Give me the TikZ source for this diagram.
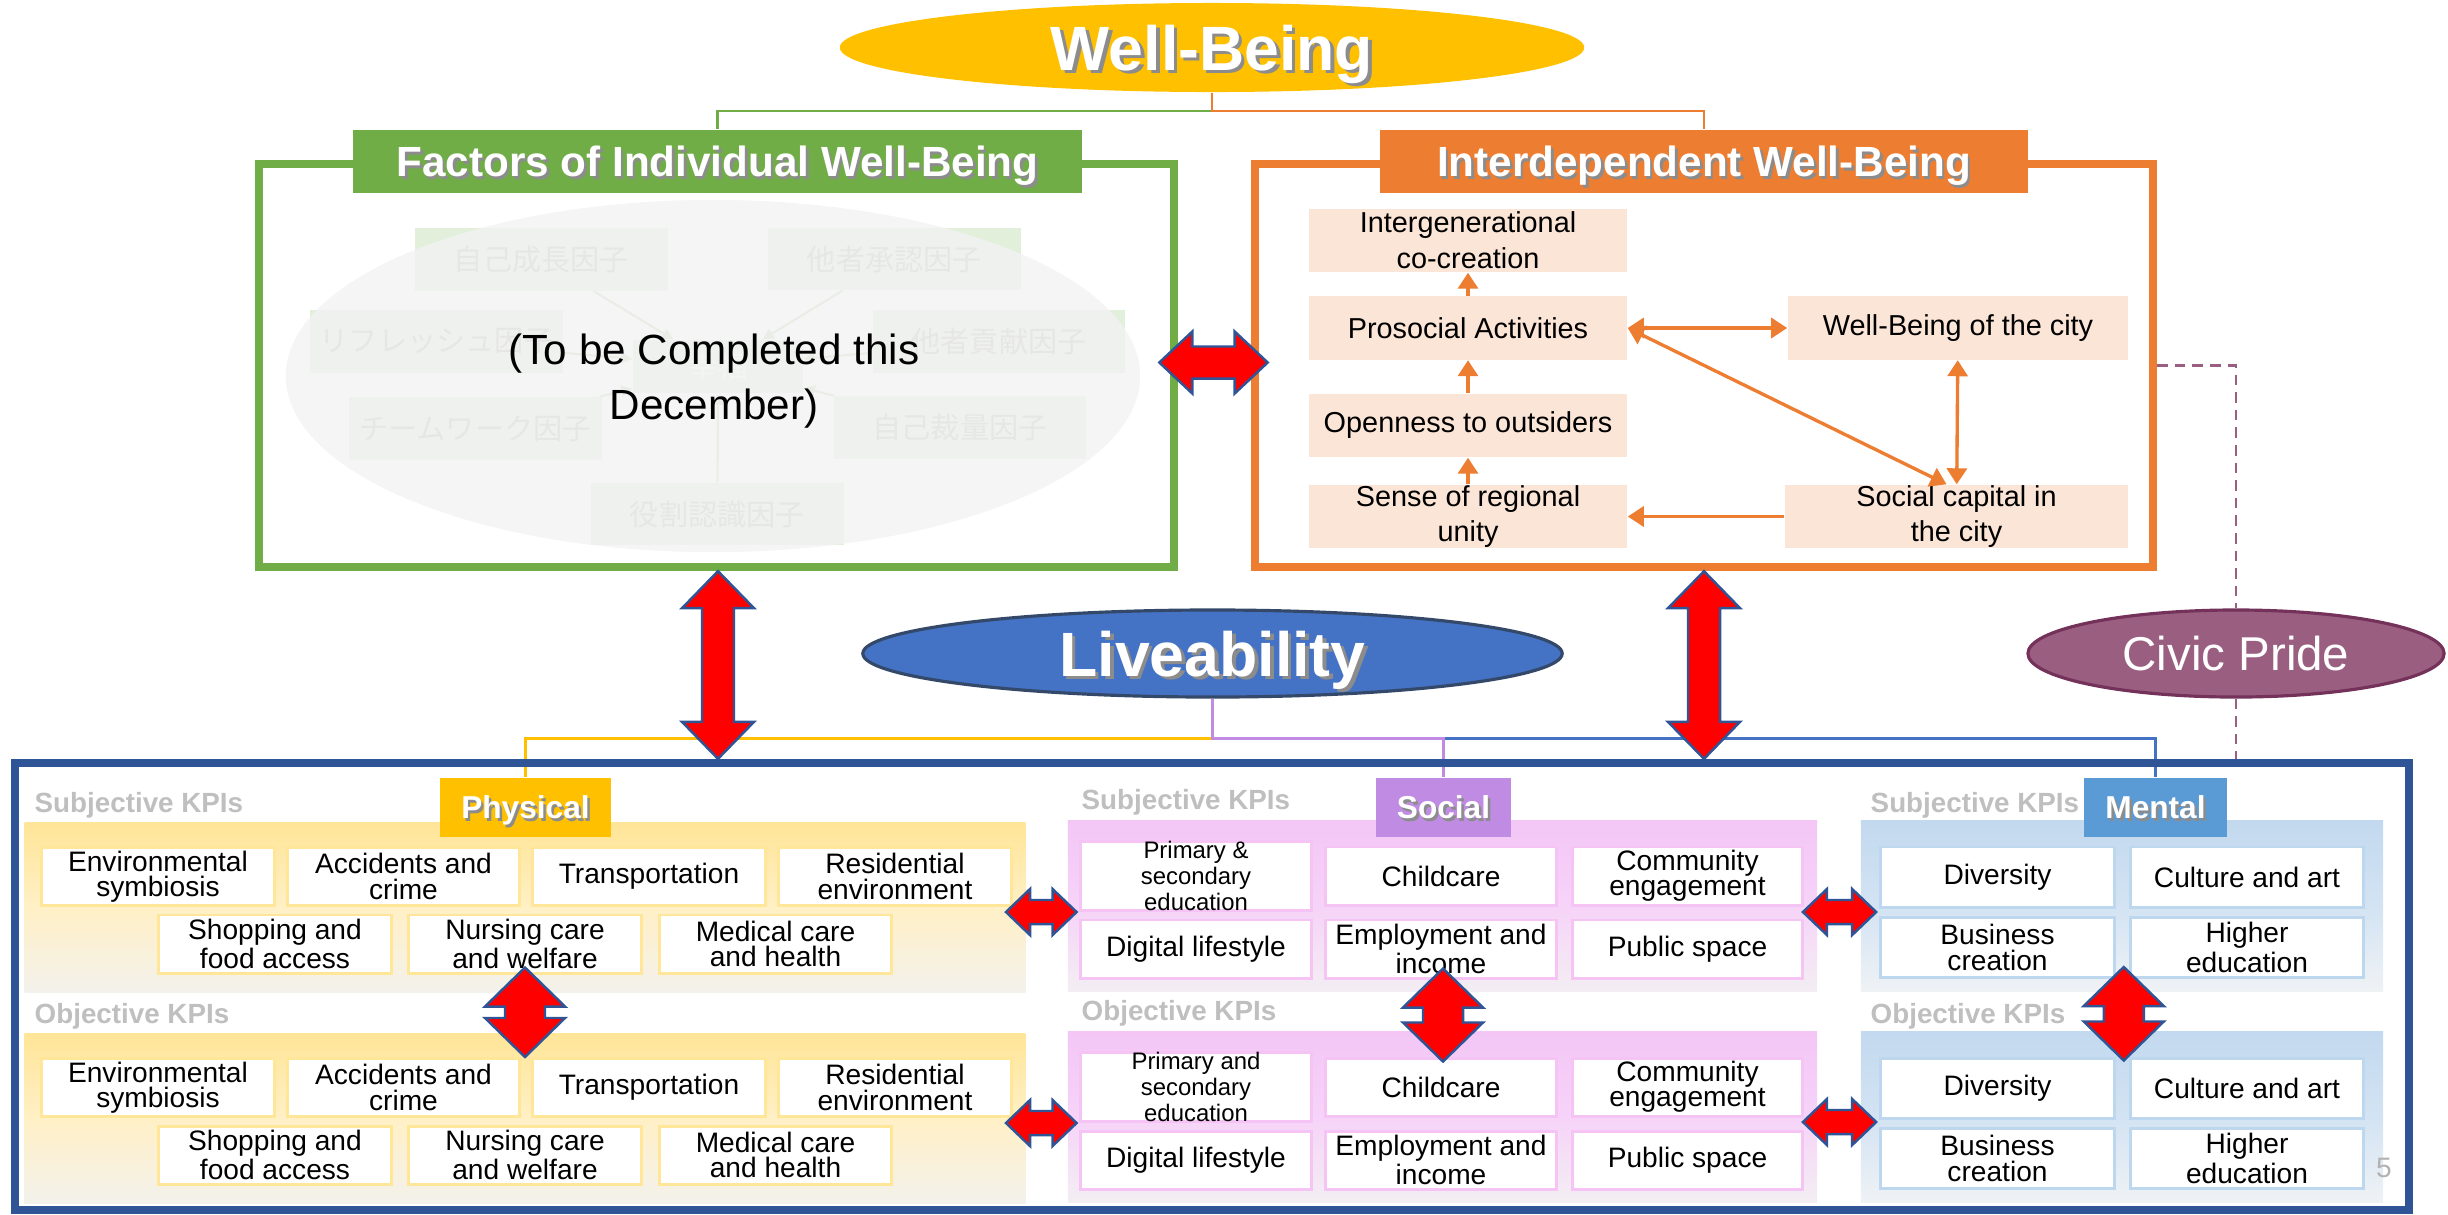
\documentclass[tikz,border=0pt]{standalone}
\usepackage{fontspec}
\setmainfont{Liberation Sans}
\newfontfamily\jpfont{Noto Sans CJK JP}
\usepackage{xcolor}
\usepackage{tikz}
\usetikzlibrary{shapes.geometric,positioning,calc,arrows.meta}

\definecolor{wbyellow}{HTML}{FFC000}
\definecolor{indivgreen}{HTML}{70AD47}
\definecolor{interorange}{HTML}{ED7D31}
\definecolor{peach}{HTML}{FBE5D6}
\definecolor{liveblue}{HTML}{4472C4}
\definecolor{liveedge}{HTML}{34496A}
\definecolor{civicmauve}{HTML}{9A5F80}
\definecolor{civicedge}{HTML}{74325A}
\definecolor{socpurple}{HTML}{C08BE2}
\definecolor{menblue}{HTML}{5B9BD5}
\definecolor{framenavy}{HTML}{2F5597}
\definecolor{arrowred}{HTML}{FF0000}
\definecolor{kpigray}{HTML}{BFBFBF}
\definecolor{physline}{HTML}{FFE699}
\definecolor{socline}{HTML}{F5C4F5}
\definecolor{menline}{HTML}{BDD7EE}
\definecolor{phystop}{HTML}{FFE597}
\definecolor{physmid}{HTML}{FFF0C6}
\definecolor{physlow}{HTML}{F3F1EC}
\definecolor{soctop}{HTML}{F3C6F6}
\definecolor{socmid}{HTML}{F6D3F8}
\definecolor{soclow}{HTML}{F3EEF3}
\definecolor{mentop}{HTML}{C3D9EF}
\definecolor{menmid}{HTML}{D3E3F3}
\definecolor{menlow}{HTML}{EFF2F5}
\definecolor{jpgreen}{HTML}{E2EFDA}
\definecolor{jpline}{HTML}{C9DDB8}
\definecolor{veilgray}{HTML}{F2F2F2}

% white heading text with a soft drop shadow
\newcommand{\shadowed}[2][0.7pt]{\makebox[0pt][l]{\kern#1\raisebox{-#1}{\textcolor{black!45}{#2}}}#2}

% red block arrows with two heads: tip, tip, half head, half shaft, head length
\newcommand{\vdblarrow}[5]{%
  \path[bigarrow] let \p1=#1, \p2=#2 in
    (\x1,\y1) -- ({\x1+#3},{\y1-#5}) -- ({\x1+#4},{\y1-#5}) -- ({\x1+#4},{\y2+#5})
    -- ({\x1+#3},{\y2+#5}) -- (\x1,\y2) -- ({\x1-#3},{\y2+#5}) -- ({\x1-#4},{\y2+#5})
    -- ({\x1-#4},{\y1-#5}) -- ({\x1-#3},{\y1-#5}) -- cycle;}
\newcommand{\hdblarrow}[5]{%
  \path[bigarrow] let \p1=#1, \p2=#2 in
    (\x1,\y1) -- ({\x1+#5},{\y1+#3}) -- ({\x1+#5},{\y1+#4}) -- ({\x2-#5},{\y1+#4})
    -- ({\x2-#5},{\y1+#3}) -- (\x2,\y1) -- ({\x2-#5},{\y1-#3}) -- ({\x2-#5},{\y1-#4})
    -- ({\x1+#5},{\y1-#4}) -- ({\x1+#5},{\y1-#3}) -- cycle;}

\tikzset{
  bigoval/.style={ellipse, inner sep=0pt, text depth=0pt, text=white, font=\fontsize{17.8}{20}\selectfont\bfseries},
  header/.style={inner sep=0pt, text depth=0pt, minimum height=0.63cm, text=white, font=\fontsize{12}{14}\selectfont\bfseries},
  wbframe/.style={line width=2.3pt, inner sep=0pt, minimum height=4.03cm},
  wbbox/.style={fill=peach, minimum width=3.18cm, minimum height=0.63cm, align=center, inner sep=0pt, font=\fontsize{8.2}{10.2}\selectfont},
  wblink/.style={interorange, line width=0.95pt, ->},
  jpbox/.style={fill=jpgreen, minimum width=2.52cm, minimum height=0.62cm, inner sep=0pt, text=gray!55, font=\jpfont\fontsize{8.3}{10}\selectfont},
  jplink/.style={jpline, line width=0.6pt, -{Triangle[length=0.11cm,width=0.11cm]}},
  domainbox/.style={minimum height=0.59cm, inner sep=0pt, text depth=0pt, text=white, font=\fontsize{9}{11}\selectfont\bfseries},
  band/.style={minimum height=1.70cm, inner sep=0pt},
  kpilabel/.style={anchor=west, inner sep=0pt, text=kpigray, font=\fontsize{7.9}{9}\selectfont\bfseries},
  kpi/.style={fill=white, line width=0.85pt, minimum height=0.58cm, align=center, inner sep=0pt, font=\fontsize{8}{7.2}\selectfont},
  physkpi/.style={kpi, draw=physline, minimum width=2.32cm},
  sockpi/.style={kpi, draw=socline, minimum width=2.30cm},
  menkpi/.style={kpi, draw=menline, minimum width=2.33cm, minimum height=0.60cm},
  bigarrow/.style={fill=arrowred, draw=framenavy, line width=0.7pt, line join=miter},
  feeder/.style={line width=0.65pt},
  civicdash/.style={civicmauve, line width=0.6pt, dash pattern=on 3pt off 2pt},
}

\begin{document}
\begin{tikzpicture}[x=0.01cm, y=-0.01cm, >={Triangle[length=0.16cm,width=0.2cm]}]
  \useasboundingbox (0,0) rectangle (2448,1214);

  % KPI bands, labels and boxes (subjective, then objective)
  \foreach \k/\dy/\lvl/\prim in {S/0/Subjective/{Primary \&\\secondary\\education},O/211/Objective/{Primary and\\secondary\\education}}{
    \node[band, top color=phystop, bottom color=physlow, middle color=physmid, minimum width=10.00cm] (physband\k) at (525,907.5+\dy) {};
    \node[band, top color=soctop, bottom color=soclow, middle color=socmid, minimum width=7.49cm] (socband\k) at (1442.5,906+\dy) {};
    \node[band, top color=mentop, bottom color=menlow, middle color=menmid, minimum width=5.22cm] (menband\k) at (2122,906+\dy) {};
    \node[kpilabel] (physlab\k) at (34,805+\dy) {\lvl\ KPIs};
    \node[kpilabel] (soclab\k) at (1081,802+\dy) {\lvl\ KPIs};
    \node[kpilabel] (menlab\k) at (1870,805+\dy) {\lvl\ KPIs};
    % Physical
    \node[physkpi] (env\k) at (158,876.5+\dy) {Environmental\\symbiosis};
    \node[physkpi] (acc\k) at (403.5,876.5+\dy) {Accidents and\\crime};
    \node[physkpi] (trans\k) at (649,876.5+\dy) {Transportation};
    \node[physkpi] (resid\k) at (895,876.5+\dy) {Residential\\environment};
    \node[physkpi] (shop\k) at (275,944+\dy) {Shopping and\\food access};
    \node[physkpi] (nurse\k) at (525,944+\dy) {Nursing care\\and welfare};
    \node[physkpi] (med\k) at (775.5,944+\dy) {Medical care\\and health};
    % Social
    \node[sockpi, font=\fontsize{6.8}{6.1}\selectfont] (school\k) at (1196,876+\dy) {\prim};
    \node[sockpi] (child\k) at (1441,876+\dy) {Childcare};
    \node[sockpi] (commun\k) at (1687.5,876+\dy) {Community\\engagement};
    \node[sockpi] (digital\k) at (1196,949+\dy) {Digital lifestyle};
    \node[sockpi] (emp\k) at (1441,949+\dy) {Employment and\\income};
    \node[sockpi] (public\k) at (1687.5,949+\dy) {Public space};
    % Mental
    \node[menkpi] (div\k) at (1997.5,877+\dy) {Diversity};
    \node[menkpi] (cult\k) at (2247,877+\dy) {Culture and art};
    \node[menkpi] (bus\k) at (1997.5,947.5+\dy) {Business\\creation};
    \node[menkpi] (high\k) at (2247,947.5+\dy) {Higher\\education};
  }
  \node[inner sep=0pt, text=gray!60, font=\fontsize{8}{9}\selectfont] (pagenum) at (2384,1168) {5};

  % Liveability and Civic Pride
  \node[bigoval, fill=liveblue, draw=liveedge, line width=0.9pt, minimum width=6.99cm, minimum height=0.87cm] (live) at (1212.5,653.5) {\shadowed[1pt]{Liveability}};
  \node[ellipse, fill=civicmauve, draw=civicedge, line width=0.9pt, minimum width=4.16cm, minimum height=0.87cm, inner sep=0pt, text=white, font=\fontsize{13.5}{15}\selectfont] (civic) at (2236,653.5) {Civic Pride};

  % Domain headers and their feeders
  \node[domainbox, fill=wbyellow, minimum width=1.71cm] (physical) at (525.5,807.5) {\shadowed{Physical}};
  \node[domainbox, fill=socpurple, minimum width=1.35cm] (social) at (1443.5,807.5) {\shadowed{Social}};
  \node[domainbox, fill=menblue, minimum width=1.43cm] (mental) at (2155.5,807.5) {\shadowed{Mental}};
  \draw[wbyellow, feeder] (live.south) -- ++(0,40) -| (physical.north);
  \draw[liveblue, feeder] (live.south) -- ++(0,40) -| (mental.north);
  \draw[socpurple, feeder] (live.south) -- ++(0,40) -| (social.north);

  % KPI frame
  \node[draw=framenavy, line width=2.3pt, inner sep=0pt, minimum width=23.92cm, minimum height=4.47cm] (kpiframe) at (1212,986.5) {};

  % Small red arrows between and within domains
  \hdblarrow{($(physbandS.east)+(-20,4.5)$)}{($(socbandS.west)+(9.5,4.5)$)}{0.23cm}{0.12cm}{0.24cm}
  \hdblarrow{($(physbandO.east)+(-20,4.5)$)}{($(socbandO.west)+(9.5,4.5)$)}{0.23cm}{0.12cm}{0.24cm}
  \hdblarrow{($(socbandS.east)+(-15,6)$)}{($(menbandS.west)+(16,6)$)}{0.23cm}{0.12cm}{0.24cm}
  \hdblarrow{($(socbandO.east)+(-15,5)$)}{($(menbandO.west)+(16,5)$)}{0.23cm}{0.12cm}{0.24cm}
  \vdblarrow{($(nurseS.south)+(0,-7)$)}{(nurseS.south |- transO.north)}{0.40cm}{0.20cm}{0.39cm}
  \vdblarrow{($(empS.south)+(2,-11)$)}{($(childO.north)+(2,5)$)}{0.40cm}{0.20cm}{0.39cm}
  \vdblarrow{($(busS.south east)!0.5!(highS.south west)+(1.5,-12)$)}{($(divO.north east)!0.5!(cultO.north west)+(1.5,4)$)}{0.40cm}{0.20cm}{0.39cm}

  % Well-Being
  \node[bigoval, fill=wbyellow, minimum width=7.44cm, minimum height=0.89cm] (wb) at (1212,47.5) {\shadowed[1pt]{Well-Being}};

  % Individual Well-Being (faded draft picture)
  \node[wbframe, draw=indivgreen, minimum width=9.15cm] (indiv) at (716.5,365.5) {};
  \node[jpbox] (growth) at (541.5,259.5) {自己成長因子};
  \node[jpbox] (recog) at (894.5,259) {他者承認因子};
  \node[jpbox] (refresh) at (436.5,341.5) {リフレッシュ因子};
  \node[jpbox] (contrib) at (999,341.5) {他者貢献因子};
  \node[jpbox] (teamwork) at (475.5,428.5) {チームワーク因子};
  \node[jpbox] (discret) at (960,427.5) {自己裁量因子};
  \node[jpbox] (roleaware) at (717.5,514) {役割認識因子};
  \node[jpbox, minimum width=1.70cm, minimum height=0.53cm, text=white] (happy) at (718,366.5) {幸福};
  \foreach \f in {growth,recog,refresh,contrib,teamwork,discret,roleaware}
    \draw[jplink] (\f) -- (happy);
  \node[ellipse, fill=veilgray, fill opacity=0.8, inner sep=0pt, minimum width=8.54cm, minimum height=3.52cm] (veil) at (713,376) {};
  \node[align=center, font=\fontsize{12}{15.4}\selectfont] (todo) at (714,381) {(To be Completed this\\December)};
  \node[header, fill=indivgreen, minimum width=7.29cm] (indivhead) at (717.5,161.5) {\shadowed{Factors of Individual Well-Being}};

  % Interdependent Well-Being
  \node[wbframe, draw=interorange, minimum width=8.98cm] (inter) at (1704,365.5) {};
  \node[header, fill=interorange, minimum width=6.48cm] (interhead) at (1704,161.5) {\shadowed{Interdependent Well-Being}};
  \node[wbbox] (cocreate) at (1468,240.5) {Intergenerational\\co-creation};
  \node[wbbox] (prosocial) at (1468,328) {Prosocial Activities};
  \node[wbbox] (openness) at (1468,425.5) {Openness to outsiders};
  \node[wbbox] (unity) at (1468,516.5) {Sense of regional\\unity};
  \node[wbbox, minimum width=3.40cm] (citywb) at (1958,328) {Well-Being of the city};
  \node[wbbox, minimum width=3.43cm] (capital) at (1956.5,516.5) {Social capital in\\the city};
  \draw[wblink] (prosocial) -- (cocreate);
  \draw[wblink] (openness) -- (prosocial);
  \draw[wblink] (unity) -- (openness);
  \draw[wblink, <->] (prosocial) -- (citywb);
  \draw[wblink, <->] (prosocial.east) -- ($(capital.north)+(-10,0)$);
  \draw[wblink, <->] (citywb) -- (capital);
  \draw[wblink] (capital) -- (unity);

  % Connectors from Well-Being
  \draw[indivgreen, feeder] (wb.south) -- ++(0,18) -| (indivhead.north);
  \draw[interorange, feeder] (wb.south) -- ++(0,18) -| (interhead.north);

  % Civic Pride link
  \draw[civicdash] (inter.east) -| (civic.north);
  \draw[civicdash] (civic.south) -- (civic.south |- kpiframe.north);

  % Big red arrows
  \hdblarrow{($(indiv.east)+(-19,-3)$)}{($(inter.west)+(17,-3)$)}{0.31cm}{0.16cm}{0.33cm}
  \vdblarrow{($(indiv.south)+(1.5,0)$)}{($(indiv.south |- kpiframe.north)+(1.5,0)$)}{0.36cm}{0.16cm}{0.37cm}
  \vdblarrow{(inter.south)}{(inter.south |- kpiframe.north)}{0.36cm}{0.16cm}{0.37cm}
\end{tikzpicture}
\end{document}
